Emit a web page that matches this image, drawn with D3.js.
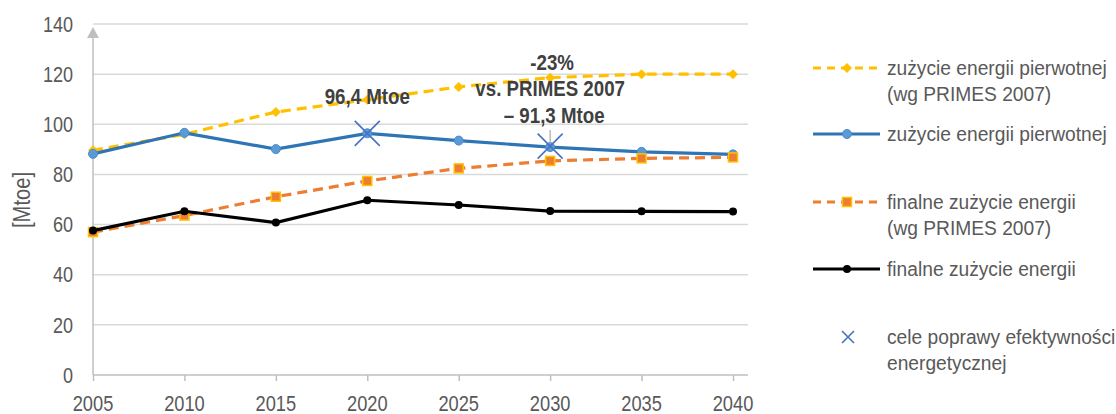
<!DOCTYPE html>
<html>
<head>
<meta charset="utf-8">
<script src="https://cdn.jsdelivr.net/npm/d3@7"></script>
<style>
  body { margin: 0; background: #fff; }
  text { font-family: "Liberation Sans", Arial, sans-serif; }
</style>
</head>
<body>
<div id="chart"></div>
<script>
// data
var years = [2005, 2010, 2015, 2020, 2025, 2030, 2035, 2040];
var primaryPrimes = [89.6, 96, 104.9, 109.8, 114.9, 118.6, 120, 120];
var primary = [88.2, 96.6, 90.1, 96.4, 93.5, 90.9, 89, 88];
var finalPrimes = [57, 63.6, 71.1, 77.4, 82.4, 85.4, 86.4, 86.8];
var finalUse = [57.6, 65.3, 60.8, 69.7, 67.8, 65.4, 65.3, 65.2];
var targetYears = [2020, 2030];
var targetValues = [96.4, 91.3];
var yTicks = [0, 20, 40, 60, 80, 100, 120, 140];

var width = 1116, height = 414;
var sx = 0.84; // text in the picture is horizontally squeezed

var x = d3.scaleLinear().domain([2005, 2040]).range([93, 733]);
var y = d3.scaleLinear().domain([0, 140]).range([375, 24]);

var svg = d3.select("#chart").append("svg")
    .attr("width", width)
    .attr("height", height);

function label(g, px, py, str, opts) {
    opts = opts || {};
    return g.append("text")
        .attr("transform", "translate(" + px + "," + py + ")" + (opts.rotate ? " rotate(" + opts.rotate + ")" : "") + " scale(" + (opts.sx || sx) + ",1)")
        .attr("text-anchor", opts.anchor || "start")
        .attr("font-size", opts.size || 20)
        .attr("font-weight", opts.bold ? "bold" : "normal")
        .attr("fill", opts.fill || "#595959")
        .text(str);
}

// gridlines
svg.append("g").selectAll("line")
    .data(yTicks.slice(1))
    .enter().append("line")
    .attr("x1", x(2005)).attr("x2", 748)
    .attr("y1", function (d) { return y(d); })
    .attr("y2", function (d) { return y(d); })
    .attr("stroke", "#d9d9d9")
    .attr("stroke-width", 1.5);

// x axis with ticks below
var xAxis = d3.axisBottom(x).tickValues(years).tickSize(6).tickFormat("");
var gx = svg.append("g").attr("transform", "translate(0," + y(0) + ")").call(xAxis);
gx.select(".domain").attr("d", "M" + x(2005) + ",0H748").attr("stroke", "#bfbfbf").attr("stroke-width", 1.5);
gx.selectAll(".tick line").attr("stroke", "#bfbfbf").attr("stroke-width", 1.5);
years.forEach(function (yr) {
    label(svg, x(yr), 411, yr, { anchor: "middle", size: 22, sx: 0.83 });
});

// y axis line with arrow
svg.append("line")
    .attr("x1", x(2005)).attr("x2", x(2005))
    .attr("y1", y(0)).attr("y2", 30)
    .attr("stroke", "#bfbfbf").attr("stroke-width", 1.5);
svg.append("path")
    .attr("d", "M" + (x(2005) - 6) + ",38L" + x(2005) + ",27L" + (x(2005) + 6) + ",38Z")
    .attr("fill", "#bfbfbf");
yTicks.forEach(function (t) {
    label(svg, 73, y(t) + 7.7, t, { anchor: "end", size: 21.5 });
});
label(svg, 30, 200, "[Mtoe]", { anchor: "middle", size: 24, rotate: -90, sx: 0.84 });

var line = d3.line()
    .x(function (d) { return x(d[0]); })
    .y(function (d) { return y(d[1]); });

function pairs(vals) {
    return years.map(function (yr, i) { return [yr, vals[i]]; });
}

var series = [
    { vals: primaryPrimes, color: "#ffc000", dash: "10,6", marker: "diamond", mcolor: "#ffc000", mstroke: "#ffc000" },
    { vals: primary, color: "#2e75b6", dash: null, marker: "circle", mcolor: "#5b9bd5", mstroke: "#4a8ad0" },
    { vals: finalPrimes, color: "#ed7d31", dash: "10,6", marker: "square", mcolor: "#ed7d31", mstroke: "#ffc000" },
    { vals: finalUse, color: "#000000", dash: null, marker: "dot", mcolor: "#000", mstroke: "#000" }
];

function drawMarker(g, kind, cx, cy, fill, stroke) {
    if (kind === "diamond") {
        g.append("path").attr("d", "M" + cx + "," + (cy - 5) + "L" + (cx + 5) + "," + cy + "L" + cx + "," + (cy + 5) + "L" + (cx - 5) + "," + cy + "Z")
            .attr("fill", fill);
    } else if (kind === "circle") {
        g.append("circle").attr("cx", cx).attr("cy", cy).attr("r", 4.5).attr("fill", fill).attr("stroke", stroke).attr("stroke-width", 1);
    } else if (kind === "square") {
        g.append("rect").attr("x", cx - 4.5).attr("y", cy - 4.5).attr("width", 9).attr("height", 9)
            .attr("fill", fill).attr("stroke", stroke).attr("stroke-width", 1.5);
    } else {
        g.append("circle").attr("cx", cx).attr("cy", cy).attr("r", 4).attr("fill", fill);
    }
}

series.forEach(function (s) {
    svg.append("path")
        .datum(pairs(s.vals))
        .attr("d", line)
        .attr("fill", "none")
        .attr("stroke", s.color)
        .attr("stroke-width", 3.2)
        .attr("stroke-dasharray", s.dash);
    var mg = svg.append("g");
    pairs(s.vals).forEach(function (p) {
        drawMarker(mg, s.marker, x(p[0]), y(p[1]), s.mcolor, s.mstroke);
    });
});

// target crosses
function cross(g, cx, cy, r) {
    g.append("path")
        .attr("d", "M" + (cx - r) + "," + (cy - r) + "L" + (cx + r) + "," + (cy + r) +
            "M" + (cx - r) + "," + (cy + r) + "L" + (cx + r) + "," + (cy - r))
        .attr("stroke", "#4472c4").attr("stroke-width", 1.6).attr("fill", "none");
}
// leader line for the 2030 note
svg.append("line")
    .attr("x1", x(2030)).attr("x2", x(2030))
    .attr("y1", 130).attr("y2", y(targetValues[1]) - 2)
    .attr("stroke", "#a6a6a6").attr("stroke-width", 1.2);
targetYears.forEach(function (yr, i) {
    cross(svg, x(yr), y(targetValues[i]), 12.5);
});

// annotations
var noteOpts = { anchor: "middle", size: 22, sx: 0.85, bold: true, fill: "#404040" };
label(svg, x(2020), 104, "96,4 Mtoe", noteOpts);
label(svg, x(2030) + 2, 70, "-23%", noteOpts);
label(svg, x(2030), 96, "vs. PRIMES 2007", noteOpts);
label(svg, x(2030) + 4, 123, "– 91,3 Mtoe", noteOpts);

// legend
var legendItems = [
    { lines: ["zużycie energii pierwotnej", "(wg PRIMES 2007)"], y: 68, s: series[0] },
    { lines: ["zużycie energii pierwotnej"], y: 134, s: series[1] },
    { lines: ["finalne zużycie energii", "(wg PRIMES 2007)"], y: 202, s: series[2] },
    { lines: ["finalne zużycie energii"], y: 269, s: series[3] },
    { lines: ["cele poprawy efektywności", "energetycznej"], y: 337, s: null }
];
var lg = svg.append("g");
legendItems.forEach(function (it) {
    if (it.s) {
        lg.append("line")
            .attr("x1", 813).attr("x2", 880)
            .attr("y1", it.y).attr("y2", it.y)
            .attr("stroke", it.s.color).attr("stroke-width", 3.2)
            .attr("stroke-dasharray", it.s.dash ? "8,6" : null);
        drawMarker(lg, it.s.marker, 847, it.y, it.s.mcolor, it.s.mstroke);
    } else {
        cross(lg, 848, it.y, 6);
    }
    it.lines.forEach(function (t, j) {
        label(lg, 887, it.y + 7 + j * 26, t, { size: 20, sx: 0.96 });
    });
});
</script>
</body>
</html>
